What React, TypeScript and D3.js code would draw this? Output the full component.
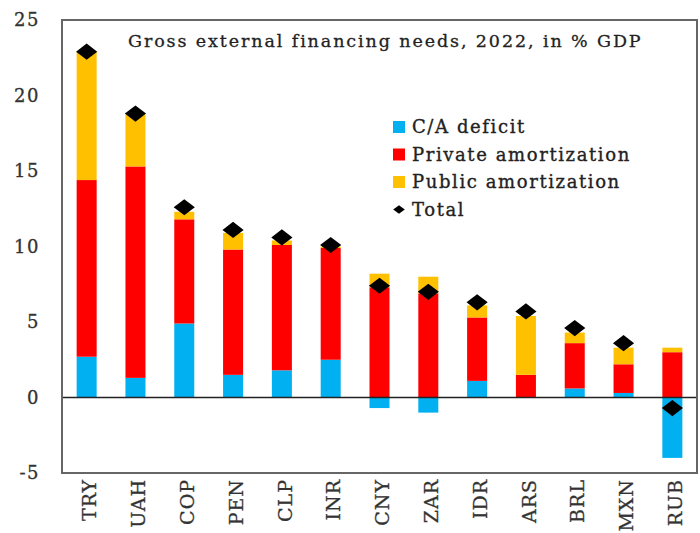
import React, { useEffect, useRef } from 'react';
import * as d3 from 'd3';

const categories = ['TRY', 'UAH', 'COP', 'PEN', 'CLP', 'INR', 'CNY', 'ZAR', 'IDR', 'ARS', 'BRL', 'MXN', 'RUB'];
const caDeficit = [2.7, 1.3, 4.9, 1.5, 1.8, 2.5, -0.7, -1.0, 1.1, 0.0, 0.6, 0.3, -4.0];
const privateAmort = [11.7, 14.0, 6.9, 8.3, 8.3, 7.4, 7.3, 6.9, 4.2, 1.5, 3.0, 1.9, 3.0];
const publicAmort = [8.5, 3.5, 0.5, 1.1, 0.3, 0.1, 0.9, 1.1, 0.8, 3.9, 0.7, 1.1, 0.3];
const total = [22.9, 18.8, 12.6, 11.1, 10.6, 10.1, 7.4, 7.0, 6.3, 5.7, 4.6, 3.6, -0.7];
const yTicks = [-5, 0, 5, 10, 15, 20, 25];

const seriesKeys = ['ca', 'priv', 'pub'];
const seriesNames = ['C/A deficit', 'Private amortization', 'Public amortization'];
const seriesColors = ['#00B0F0', '#FF0000', '#FFC000'];

const App: React.FC = () => {
  const svgRef = useRef<SVGSVGElement | null>(null);

  useEffect(() => {
    if (!svgRef.current) return;
    const svg = d3.select(svgRef.current);
    svg.selectAll('*').remove();

    const width = 700;
    const height = 533;
    const margin = { top: 20, right: 3, bottom: 60, left: 62 };
    const font = '"DejaVu Serif", serif';

    const rows = categories.map((c, i) => ({
      cat: c,
      ca: caDeficit[i],
      priv: privateAmort[i],
      pub: publicAmort[i],
    }));

    const x = d3.scaleBand()
      .domain(categories)
      .range([margin.left, width - margin.right])
      .paddingInner(0.59)
      .paddingOuter(0.3);

    const y = d3.scaleLinear()
      .domain([-5, 25])
      .range([height - margin.bottom, margin.top]);

    const stack = d3.stack<any>()
      .keys(seriesKeys)
      .offset(d3.stackOffsetDiverging);
    const stacked = stack(rows);

    svg.append('rect')
      .attr('width', width)
      .attr('height', height)
      .attr('fill', '#fff');

    // bars
    stacked.forEach((layer, li) => {
      svg.append('g')
        .selectAll('rect')
        .data(layer)
        .enter().append('rect')
        .attr('x', d => x(d.data.cat) || 0)
        .attr('width', x.bandwidth())
        .attr('y', d => y(Math.max(d[0], d[1])))
        .attr('height', d => Math.abs(y(d[0]) - y(d[1])))
        .attr('fill', seriesColors[li]);
    });

    // zero line
    svg.append('line')
      .attr('x1', margin.left)
      .attr('x2', width - margin.right)
      .attr('y1', y(0))
      .attr('y2', y(0))
      .attr('stroke', '#222')
      .attr('stroke-width', 1.5);

    // frame
    svg.append('rect')
      .attr('x', margin.left)
      .attr('y', margin.top)
      .attr('width', width - margin.right - margin.left)
      .attr('height', height - margin.bottom - margin.top)
      .attr('fill', 'none')
      .attr('stroke', '#666')
      .attr('stroke-width', 2);

    // totals (diamonds, a bit wider than tall)
    const diamond = d3.symbol().type(d3.symbolDiamond2).size(216);
    svg.append('g')
      .selectAll('path')
      .data(total)
      .enter().append('path')
      .attr('d', diamond)
      .attr('transform', (d, i) => `translate(${(x(categories[i]) || 0) + x.bandwidth() / 2},${y(d)}) scale(1.15,0.88)`)
      .attr('fill', '#000');

    // y axis labels (plain hyphen for negatives, as in the source)
    const yAxis = d3.axisLeft(y).tickValues(yTicks).tickSize(0).tickPadding(22)
      .tickFormat(d => String(d));
    const ya = svg.append('g')
      .attr('transform', `translate(${margin.left},0)`)
      .call(yAxis);
    ya.select('.domain').remove();
    ya.selectAll('text')
      .attr('font-family', font)
      .attr('font-size', 18)
      .attr('letter-spacing', 1.5)
      .attr('fill', '#333')
      .attr('stroke', '#333')
      .attr('stroke-width', 0.3);

    // x axis labels
    const xa = svg.append('g')
      .attr('transform', `translate(0,${height - margin.bottom})`)
      .call(d3.axisBottom(x).tickSize(0));
    xa.select('.domain').remove();
    xa.selectAll('text')
      .attr('font-family', font)
      .attr('font-size', 19)
      .attr('letter-spacing', 1)
      .attr('fill', '#333')
      .attr('stroke', '#333')
      .attr('stroke-width', 0.3)
      .attr('text-anchor', 'end')
      .attr('dy', '0.35em')
      .attr('transform', 'translate(0,6) rotate(-90)');

    // title
    svg.append('text')
      .attr('x', 128)
      .attr('y', 47)
      .attr('font-family', font)
      .attr('font-size', 17.5)
      .attr('letter-spacing', 1.9)
      .attr('fill', '#222')
      .attr('stroke', '#222')
      .attr('stroke-width', 0.3)
      .text('Gross external financing needs, 2022, in % GDP');

    // legend
    const lg = svg.append('g').attr('transform', 'translate(393,127)');
    seriesNames.forEach((n, i) => {
      const row = lg.append('g').attr('transform', `translate(0,${i * 27.5})`);
      row.append('rect')
        .attr('x', 0)
        .attr('y', -6)
        .attr('width', 12)
        .attr('height', 12)
        .attr('fill', seriesColors[i]);
      row.append('text')
        .attr('x', 19)
        .attr('dy', '0.35em')
        .attr('font-family', font)
        .attr('font-size', 18)
        .attr('letter-spacing', 1.6)
        .attr('fill', '#222')
        .attr('stroke', '#222')
        .attr('stroke-width', 0.35)
        .text(n);
    });
    const tr = lg.append('g').attr('transform', `translate(0,${3 * 27.5})`);
    tr.append('path')
      .attr('d', d3.symbol().type(d3.symbolDiamond2).size(60))
      .attr('transform', 'translate(6,0) scale(1.2,0.9)')
      .attr('fill', '#000');
    tr.append('text')
      .attr('x', 19)
      .attr('dy', '0.35em')
      .attr('font-family', font)
      .attr('font-size', 18)
      .attr('letter-spacing', 1.6)
      .attr('fill', '#222')
      .attr('stroke', '#222')
      .attr('stroke-width', 0.35)
      .text('Total');
  }, []);

  return (
    <svg ref={svgRef} width={700} height={533} style={{ position: 'absolute', left: 0, top: 0 }} />
  );
};

export default App;
